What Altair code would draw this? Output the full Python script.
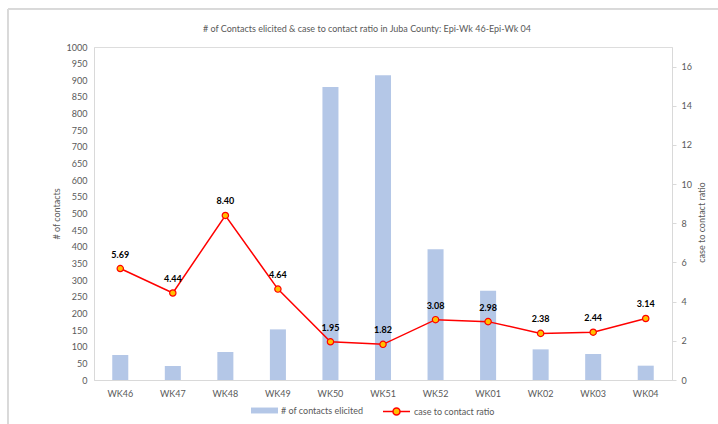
import altair as alt
import pandas as pd

weeks = ["WK46", "WK47", "WK48", "WK49", "WK50", "WK51", "WK52", "WK01", "WK02", "WK03", "WK04"]
contacts = [75, 42, 84, 152, 880, 915, 393, 268, 92, 78, 43]
ratio = [5.69, 4.44, 8.40, 4.64, 1.95, 1.82, 3.08, 2.98, 2.38, 2.44, 3.14]
ratio_labels = ["5.69", "4.44", "8.40", "4.64", "1.95", "1.82", "3.08", "2.98", "2.38", "2.44", "3.14"]

S1 = "# of contacts elicited"
S2 = "case to contact ratio"

df = pd.DataFrame({
    "week": weeks,
    "contacts": contacts,
    "ratio": ratio,
    "label": ratio_labels,
    "s1": [S1] * len(weeks),
    "s2": [S2] * len(weeks),
})

FONT = "Lato"
GREY = "#595959"
AXC = "#D9D9D9"

x = alt.X("week:N", sort=weeks, title=None,
          scale=alt.Scale(paddingInner=0, paddingOuter=0),
          axis=alt.Axis(labelAngle=0, ticks=False, domainColor=AXC, labelColor=GREY,
                        labelFontSize=9, labelPadding=9, labelFont=FONT))

base = alt.Chart(df)

bars = base.mark_bar(width=alt.RelativeBandSize(0.305)).encode(
    x=x,
    y=alt.Y("contacts:Q", scale=alt.Scale(domain=[0, 1000], nice=False),
            axis=alt.Axis(orient="left", values=list(range(0, 1001, 50)), format="d",
                          grid=False, ticks=False,
                          domainColor=AXC, labelColor=GREY, labelFontSize=9, labelPadding=7,
                          title="# of contacts", titleColor=GREY, titleFontSize=9,
                          titleFontWeight="normal", titlePadding=5, labelFont=FONT, titleFont=FONT)),
    fill=alt.Fill("s1:N", scale=alt.Scale(domain=[S1], range=["#B4C7E7"]),
                  legend=alt.Legend(title=None, orient="none", legendX=157, legendY=350,
                                    symbolType="M-1,-0.22H1V0.22H-1Z", symbolSize=729,
                                    symbolStrokeWidth=0, labelFontSize=9, labelColor=GREY,
                                    labelOffset=3, labelFont=FONT)),
)

yr = alt.Y("ratio:Q", scale=alt.Scale(domain=[0, 17], nice=False),
           axis=alt.Axis(orient="right", values=list(range(0, 17, 2)), grid=False, ticks=True,
                         tickSize=4, tickColor=AXC, domainColor=AXC, labelColor=GREY,
                         labelFontSize=9, labelPadding=5, title="case to contact ratio",
                         titleAngle=270, titleBaseline="middle", titleAlign="center",
                         titleX=29, titleY=175,
                         titleColor=GREY, titleFontSize=9, titleFontWeight="normal",
                         labelFont=FONT, titleFont=FONT))

line = base.mark_line(strokeWidth=1.5).encode(
    x=x, y=yr,
    stroke=alt.Stroke("s2:N", scale=alt.Scale(domain=[S2], range=["#FF0000"]),
                      legend=alt.Legend(title=None, orient="none", legendX=288, legendY=350,
                                        symbolType="M-1,0H-0.26M0.26,0H1M-0.26,0A0.26,0.26 0 1,1 0.26,0A0.26,0.26 0 1,1 -0.26,0Z",
                                        symbolSize=729, symbolStrokeWidth=1.5,
                                        symbolFillColor="#FFC000", labelFontSize=9,
                                        labelColor=GREY, labelOffset=3, labelFont=FONT)),
)

points = base.mark_point(filled=True, fill="#FFC000", stroke="#FF0000", strokeWidth=1.2,
                         size=40, shape="circle", opacity=1).encode(x=x, y=yr)

text = base.mark_text(dy=-14, fontSize=9, fontWeight="bold", color="#000000", font=FONT).encode(
    x=x, y=yr, text="label:N")

frame = base.mark_rect(fill=None, stroke="#D9D9D9", strokeWidth=1).encode(
    x=alt.value(-86), x2=alt.value(700), y=alt.value(-38), y2=alt.value(440))

right = alt.layer(line, points, text)

chart = alt.layer(frame, bars, right).resolve_scale(y="independent").properties(
    width=578, height=333,
    autosize=alt.AutoSizeParams(type="none"),
    padding={"left": 94, "top": 47, "right": 46, "bottom": 44},
    title=alt.TitleParams("# of Contacts elicited & case to contact ratio in Juba County: Epi-Wk 46-Epi-Wk 04",
                          fontSize=9, fontWeight="normal", color=GREY, anchor="middle",
                          offset=-25, dx=-16, font=FONT),
).configure_view(stroke=None).configure(font=FONT)

chart.save("out.html", embed_options={"renderer": "svg", "actions": False})
